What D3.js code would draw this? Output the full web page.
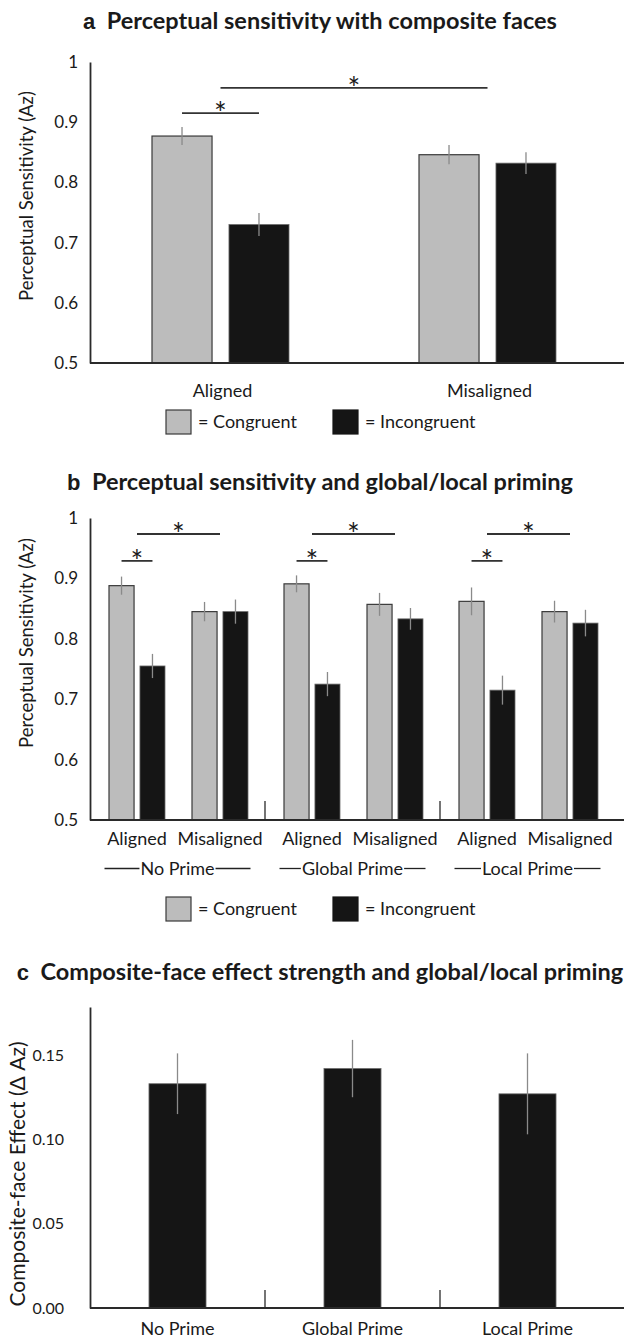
<!DOCTYPE html>
<html><head><meta charset="utf-8">
<script src="https://cdn.jsdelivr.net/npm/d3@7"></script>
<style>
body{margin:0;background:#fff}
svg{display:block}
text{font-family:Lato,'Open Sans',sans-serif;fill:#1a1a1a}
</style>
</head><body>
<svg id="chart" width="624" height="1341"></svg>
<script>
// ---------- data ----------
const alignments = ["Aligned", "Misaligned"];
const conditions = ["Congruent", "Incongruent"];
const primes = ["No Prime", "Global Prime", "Local Prime"];

// panel a (order: Aligned, Misaligned)
const aCongruent = [0.877, 0.846];
const aCongruentErr = [0.015, 0.016];
const aIncongruent = [0.730, 0.832];
const aIncongruentErr = [0.019, 0.018];

// panel b (order: NP-A, NP-M, GP-A, GP-M, LP-A, LP-M)
const bCongruent = [0.888, 0.845, 0.891, 0.857, 0.862, 0.845];
const bCongruentErr = [0.015, 0.016, 0.014, 0.019, 0.023, 0.018];
const bIncongruent = [0.755, 0.845, 0.725, 0.833, 0.715, 0.826];
const bIncongruentErr = [0.020, 0.020, 0.020, 0.018, 0.024, 0.022];

// panel c
const cEffect = [0.133, 0.142, 0.127];
const cEffectErr = [0.018, 0.017, 0.024];

// ticks
const azTicks = [0.5, 0.6, 0.7, 0.8, 0.9, 1];
const cTicks = [0, 0.05, 0.10, 0.15];

// significance levels
const aSigShort = 0.915, aSigLong = 0.957;
const bSigShort = 0.929, bSigLong = 0.9735;

// ---------- styles ----------
const GRAY = "#bcbcbc", GRAY_STROKE = "#3a3a3a";
const BLACK = "#151515", BLACK_STROKE = "#6a6a6a";
const ERR = "#8a8a8a";
const AXIS = "#2a2a2a";
const TICK_FS = 17, LABEL_FS = 18, YLAB_FS = 18.5, TITLE_FS = 23.5;

const svg = d3.select("#chart");

function title(y, letter, txt) {
  const t = svg.append("text").attr("x", 320).attr("y", y).attr("text-anchor", "middle");
  t.append("tspan").text(letter)
    .style("font-family", "'Liberation Sans',Arial,sans-serif").style("font-weight", "bold").style("font-size", "22px");
  t.append("tspan").text("\u00a0\u00a0" + txt).style("font-weight", "bold").style("font-size", TITLE_FS + "px");
}

function yAxis(y, x0, ticks, fmt, pad, fs) {
  const g = svg.append("g").attr("transform", `translate(${x0},0)`)
    .call(d3.axisLeft(y).tickValues(ticks).tickFormat(fmt).tickSize(0).tickSizeOuter(0).tickPadding(pad));
  g.select(".domain").attr("stroke", AXIS).attr("stroke-width", 1.8);
  g.selectAll("text").style("font-family", "Lato,sans-serif").style("font-size", fs + "px").attr("fill", "#1a1a1a");
  return g;
}

function yLabel(cx, cy, txt, fs) {
  svg.append("text").attr("transform", `translate(${cx},${cy}) rotate(-90)`)
    .attr("text-anchor", "middle").style("font-size", fs + "px").text(txt);
}

function xBaseline(x1, x2, y) {
  svg.append("line").attr("x1", x1).attr("x2", x2).attr("y1", y).attr("y2", y)
    .attr("stroke", AXIS).attr("stroke-width", 1.8);
}

function legend(cy) {
  const items = [{c: GRAY, s: GRAY_STROKE, t: "= Congruent", x: 166}, {c: BLACK, s: BLACK, t: "= Incongruent", x: 333}];
  items.forEach(d => {
    svg.append("rect").attr("x", d.x).attr("y", cy - 12).attr("width", 25).attr("height", 24)
      .attr("fill", d.c).attr("stroke", d.s).attr("stroke-width", 1.2);
    svg.append("text").attr("x", d.x + 32).attr("y", cy + 6).style("font-size", "18px").text(d.t);
  });
}

function sig(x1, x2, y) {
  svg.append("line").attr("x1", x1).attr("x2", x2).attr("y1", y).attr("y2", y)
    .attr("stroke", "#333").attr("stroke-width", 1.8);
  svg.append("text").attr("x", (x1 + x2) / 2).attr("y", y + 11).attr("text-anchor", "middle")
    .style("font-size", "30px").text("*");
}

// ---------- panel a ----------
title(29, "a", "Perceptual sensitivity with composite faces");
const yA = d3.scaleLinear().domain([0.5, 1]).range([363, 62]);
const xA = d3.scaleBand().domain(alignments).range([87, 621]);
const xAin = d3.scaleBand().domain(conditions).range([0, 137]).paddingInner(0.22);
const aGroupOff = xA.bandwidth() / 2 - 68.5;

const aData = [];
alignments.forEach((al, i) => {
  aData.push({al, cond: "Congruent", v: aCongruent[i], e: aCongruentErr[i]});
  aData.push({al, cond: "Incongruent", v: aIncongruent[i], e: aIncongruentErr[i]});
});
const aX = d => xA(d.al) + aGroupOff + xAin(d.cond);

svg.append("g").selectAll("rect").data(aData).join("rect")
  .attr("x", aX).attr("width", xAin.bandwidth())
  .attr("y", d => yA(d.v)).attr("height", d => yA(0.5) - yA(d.v))
  .attr("fill", d => d.cond === "Congruent" ? GRAY : BLACK)
  .attr("stroke", d => d.cond === "Congruent" ? GRAY_STROKE : BLACK_STROKE)
  .attr("stroke-width", d => d.cond === "Congruent" ? 1.2 : 0.8);
svg.append("g").selectAll("line").data(aData).join("line")
  .attr("x1", d => aX(d) + xAin.bandwidth() / 2).attr("x2", d => aX(d) + xAin.bandwidth() / 2)
  .attr("y1", d => yA(d.v - d.e)).attr("y2", d => yA(d.v + d.e))
  .attr("stroke", ERR).attr("stroke-width", 1.3);

yAxis(yA, 90, azTicks, d => d === 1 ? "1" : d3.format(".1f")(d), 12, TICK_FS);
xBaseline(90, 624, yA(0.5));
yLabel(33, 196, "Perceptual Sensitivity (Az)", YLAB_FS);
alignments.forEach(al => {
  svg.append("text").attr("x", xA(al) + xA.bandwidth() / 2 + 2).attr("y", 397)
    .attr("text-anchor", "middle").style("font-size", LABEL_FS + "px").text(al);
});
{
  const c1 = xA("Aligned") + aGroupOff + xAin("Congruent") + xAin.bandwidth() / 2;
  const c2 = xA("Aligned") + aGroupOff + xAin("Incongruent") + xAin.bandwidth() / 2;
  sig(c1, c2, yA(aSigShort));
  sig(xA("Aligned") + xA.bandwidth() / 2, xA("Misaligned") + xA.bandwidth() / 2, yA(aSigLong));
}
legend(422);

// ---------- panel b ----------
title(490, "b", "Perceptual sensitivity and global/local priming");
const yB = d3.scaleLinear().domain([0.5, 1]).range([820, 518]);
const xP = d3.scaleBand().domain(primes).range([90, 615]);
const xAl = d3.scalePoint().domain(alignments).range([47, 130]);
const xBin = d3.scaleBand().domain(conditions).range([0, 56]).paddingInner(0.19);

const bData = [];
primes.forEach((p, pi) => alignments.forEach((al, ai) => {
  const k = pi * 2 + ai;
  bData.push({p, al, cond: "Congruent", v: bCongruent[k], e: bCongruentErr[k]});
  bData.push({p, al, cond: "Incongruent", v: bIncongruent[k], e: bIncongruentErr[k]});
}));
const bCenter = (p, al) => xP(p) + xAl(al);
const bX = d => bCenter(d.p, d.al) - 28 + xBin(d.cond);

svg.append("g").selectAll("rect").data(bData).join("rect")
  .attr("x", bX).attr("width", xBin.bandwidth())
  .attr("y", d => yB(d.v)).attr("height", d => yB(0.5) - yB(d.v))
  .attr("fill", d => d.cond === "Congruent" ? GRAY : BLACK)
  .attr("stroke", d => d.cond === "Congruent" ? GRAY_STROKE : BLACK_STROKE)
  .attr("stroke-width", d => d.cond === "Congruent" ? 1.2 : 0.8);
svg.append("g").selectAll("line").data(bData).join("line")
  .attr("x1", d => bX(d) + xBin.bandwidth() / 2).attr("x2", d => bX(d) + xBin.bandwidth() / 2)
  .attr("y1", d => yB(d.v - d.e)).attr("y2", d => yB(d.v + d.e))
  .attr("stroke", ERR).attr("stroke-width", 1.3);

yAxis(yB, 90, azTicks, d => d === 1 ? "1" : d3.format(".1f")(d), 12, TICK_FS);
xBaseline(90, 624, yB(0.5));
yLabel(33, 643, "Perceptual Sensitivity (Az)", YLAB_FS);
primes.slice(1).forEach(p => {
  svg.append("line").attr("x1", xP(p)).attr("x2", xP(p)).attr("y1", yB(0.5)).attr("y2", yB(0.5) - 19)
    .attr("stroke", AXIS).attr("stroke-width", 1.3);
});
primes.forEach(p => {
  alignments.forEach(al => {
    svg.append("text").attr("x", bCenter(p, al)).attr("y", 845).attr("text-anchor", "middle")
      .style("font-size", LABEL_FS + "px").text(al);
  });
  const cx = xP(p) + xP.bandwidth() / 2;
  const t = svg.append("text").attr("x", cx).attr("y", 875).attr("text-anchor", "middle")
    .style("font-size", LABEL_FS + "px").text(p);
  const bb = t.node().getBBox();
  const ly = 868.5;
  svg.append("line").attr("x1", cx - 73).attr("x2", bb.x - 1).attr("y1", ly).attr("y2", ly).attr("stroke", "#222").attr("stroke-width", 1.3);
  svg.append("line").attr("x1", bb.x + bb.width + 1).attr("x2", cx + 73).attr("y1", ly).attr("y2", ly).attr("stroke", "#222").attr("stroke-width", 1.3);
  const g1 = bCenter(p, "Aligned") - 28 + xBin("Congruent") + xBin.bandwidth() / 2;
  const g2 = bCenter(p, "Aligned") - 28 + xBin("Incongruent") + xBin.bandwidth() / 2;
  sig(g1, g2, yB(bSigShort));
  sig(bCenter(p, "Aligned"), bCenter(p, "Misaligned"), yB(bSigLong));
});
legend(909);

// ---------- panel c ----------
title(980, "c", "Composite-face effect strength and global/local priming");
const yC = d3.scaleLinear().domain([0, 0.1785]).range([1308, 1007]);
const xC = d3.scaleBand().domain(primes).range([90, 615]).paddingInner(0.674).paddingOuter(0.337);

svg.append("g").selectAll("rect").data(primes).join("rect")
  .attr("x", d => xC(d)).attr("width", xC.bandwidth())
  .attr("y", (d, i) => yC(cEffect[i])).attr("height", (d, i) => yC(0) - yC(cEffect[i]))
  .attr("fill", BLACK).attr("stroke", BLACK_STROKE).attr("stroke-width", 0.8);
svg.append("g").selectAll("line").data(primes).join("line")
  .attr("x1", d => xC(d) + xC.bandwidth() / 2).attr("x2", d => xC(d) + xC.bandwidth() / 2)
  .attr("y1", (d, i) => yC(cEffect[i] - cEffectErr[i])).attr("y2", (d, i) => yC(cEffect[i] + cEffectErr[i]))
  .attr("stroke", ERR).attr("stroke-width", 1.3);

yAxis(yC, 90, cTicks, d3.format(".2f"), 26, 16);
xBaseline(90, 624, yC(0));
yLabel(25, 1174, "Composite-face Effect (\u0394 Az)", 21);
primes.slice(1).forEach(p => {
  svg.append("line").attr("x1", xP(p)).attr("x2", xP(p)).attr("y1", yC(0)).attr("y2", yC(0) - 18)
    .attr("stroke", AXIS).attr("stroke-width", 1.3);
});
primes.forEach(p => {
  svg.append("text").attr("x", xP(p) + xP.bandwidth() / 2).attr("y", 1335).attr("text-anchor", "middle")
    .style("font-size", LABEL_FS + "px").text(p);
});
</script>
</body></html>
